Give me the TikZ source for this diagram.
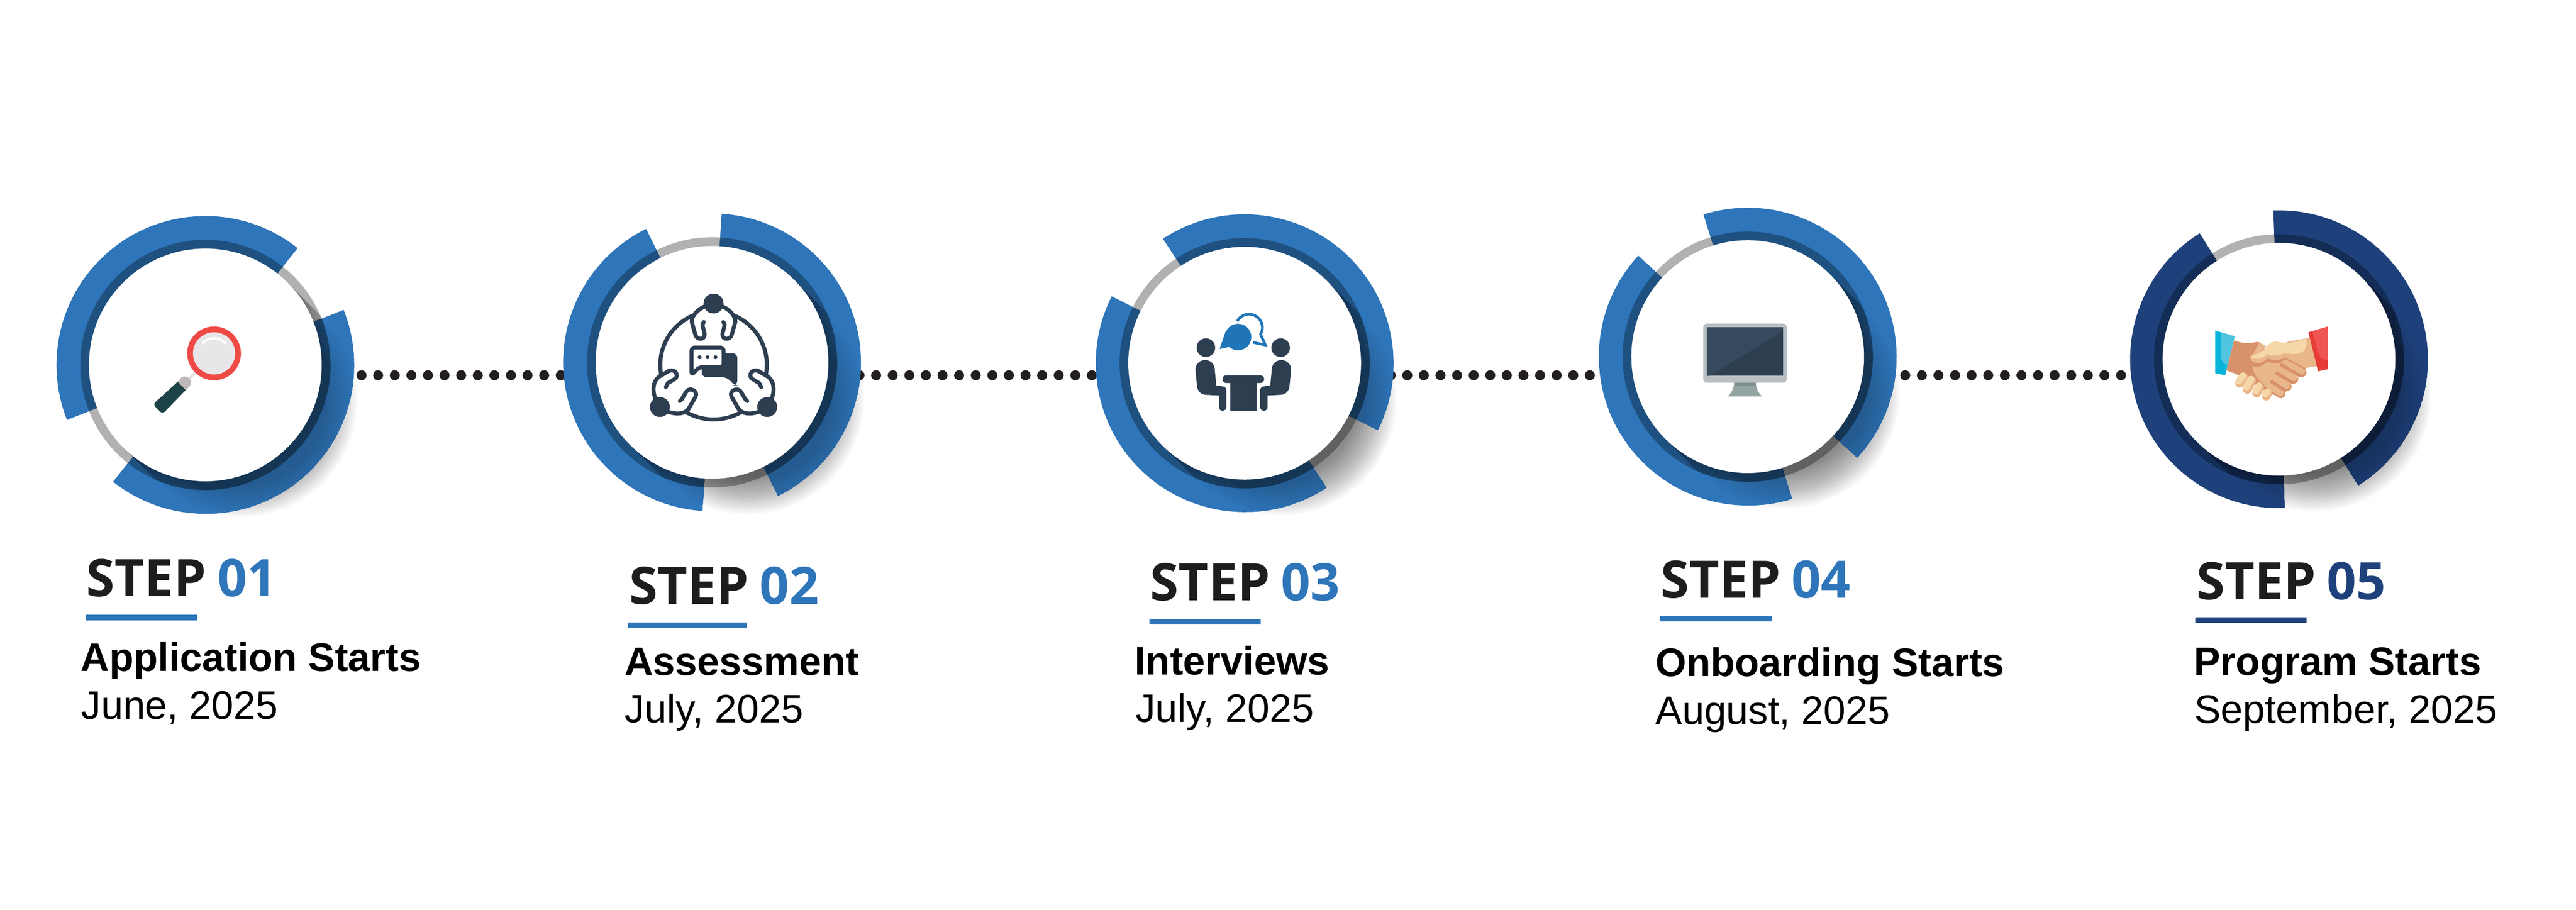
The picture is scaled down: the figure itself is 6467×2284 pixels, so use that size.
\documentclass[tikz,border=0pt]{standalone}
\usepackage{fontspec}
\setmainfont{Liberation Sans}
\newfontfamily\stepfont{Open Sans}
\usetikzlibrary{calc}
\definecolor{ringblue}{HTML}{2E75B9}
\definecolor{ringnavy}{HTML}{1E417C}
\definecolor{ink}{HTML}{2D3E50}
\definecolor{steptext}{HTML}{1D1D1B}
\definecolor{dotc}{HTML}{231F20}
\definecolor{talkblue}{HTML}{1F75B8}
\definecolor{skinL}{HTML}{F5D7A8}
\definecolor{skinM}{HTML}{E9B68A}
\definecolor{skinD}{HTML}{D8916A}
\definecolor{capgrey}{HTML}{BFB7B9}
\definecolor{gripgreen}{HTML}{1C4347}
\definecolor{lensred}{HTML}{EF4A45}
\definecolor{lensfill}{HTML}{E9E6EA}
\definecolor{standA}{HTML}{93A5A3}
\definecolor{standB}{HTML}{7E8F8C}
\definecolor{bezel}{HTML}{B8BEC3}
\definecolor{glare}{HTML}{37495D}
\definecolor{cuffA}{HTML}{06B4DB}
\definecolor{cuffB}{HTML}{4FC5E0}
\definecolor{cuffC}{HTML}{E63C36}
\definecolor{cuffD}{HTML}{EF5553}
\tikzset{
  dotdisc/.style={fill=dotc},
  hairline/.style={draw=black!13,line width=.3pt},
  whitedisc/.style={circle,fill=white,inner sep=0pt,minimum size=5.84cm},
  steplabel/.style={anchor=base west,inner sep=0pt,text=steptext,font=\stepfont\bfseries\fontsize{36.9}{42}\selectfont},
  numlabel/.style={anchor=base west,inner sep=0pt,font=\stepfont\bfseries\fontsize{36.9}{42}\selectfont},
  titlelabel/.style={anchor=base west,inner sep=0pt,text=black,font=\bfseries\fontsize{28.4}{32}\selectfont},
  datelabel/.style={anchor=base west,inner sep=0pt,text=black,font=\fontsize{28.4}{32}\selectfont},
  iconline/.style={draw=ink,line width=2.845pt,line cap=round,line join=round},
}
\newcommand\ringarc[2]{(#1:373.7) arc[start angle=#1,end angle=#2,radius=373.7] -- (#2:285) arc[start angle=#2,end angle=#1,radius=285] -- cycle}
\newcommand\capsule[1]{(45:#1) -- ++(90.5,-90.5) arc[start angle=45,end angle=-135,radius=#1] -- (225:#1) arc[start angle=225,end angle=45,radius=#1] -- cycle}
\newcommand\stepring[5]{%
  \begin{scope}[shift={(#2,#3)}]
    \pgfmathsetmacro\bS{#4}\pgfmathsetmacro\bE{#4-150}
    \pgfmathsetmacro\aS{#4+30}\pgfmathsetmacro\aE{#4+180}
    % soft shadow on the white ground
    \foreach \R in {292,289,...,196}{\fill[black,opacity=.014] \capsule{\R};}
    % two blue arcs
    \fill[#5] \ringarc{\bS}{\bE};
    \fill[#5] \ringarc{\aS}{\aE};
    % shadow falling on the arcs, as opaque mixed tints
    \begin{scope}
      \clip \ringarc{\bS}{\bE} \ringarc{\aS}{\aE};
      \foreach \R in {292,289,...,208}{
        \pgfmathsetmacro\p{100-(292-\R)*22/84}
        \fill[#5!\p!black] \capsule{\R};
      }
      \begin{scope}
        \clip (0,0) circle (314);
        \foreach \R in {292,289,...,238}{
          \pgfmathsetmacro\p{100-(292-\R)*34/54}
          \fill[#5!\p!black] \capsule{\R};
        }
      \end{scope}
    \end{scope}
    % thin grey ring (multiplies what is below)
    \fill[black,opacity=.306] (0,0) circle (314);
    % crisp wedges at the two tangent points
    \begin{scope}
      \clip \capsule{292};
      \clip (0,0) circle (314);
      \foreach \k in {3,6,...,36}{
        \fill[black,opacity=.04] (0,0) -- (45:330) arc[start angle=45,end angle=45-\k,radius=330] -- cycle;
        \fill[black,opacity=.04] (0,0) -- (225:330) arc[start angle=225,end angle=225+\k,radius=330] -- cycle;
      }
    \end{scope}
    \node[whitedisc] (disc#1) at (0,0) {};
  \end{scope}}
\begin{document}
\begin{tikzpicture}[x=.01cm,y=.01cm]
\useasboundingbox (0,0) rectangle (6467,2284);
\fill[white] (0,0) rectangle (6467,2284);
% connectors
\coordinate (e1) at (885,1342); \coordinate (e2) at (1420,1342);
\coordinate (e3) at (2155,1342); \coordinate (e4) at (2757,1342);
\coordinate (e5) at (3492,1342); \coordinate (e6) at (4020,1342);
\coordinate (e7) at (4755,1342); \coordinate (e8) at (5353,1342);
\draw[hairline] (e1) -- (e2);
\draw[hairline] (e3) -- (e4);
\draw[hairline] (e5) -- (e6);
\draw[hairline] (e7) -- (e8);
\foreach \k in {0,...,12,30,31,...,44,62,63,...,74,93,94,...,106}{
  \fill[dotdisc] ({907.7+41.67*\k},1342) circle (12.6);
}
% rings
\stepring{1}{515.5}{1368}{21.7}{ringblue}
\stepring{2}{1787.6}{1374.5}{86.3}{ringblue}
\stepring{3}{3124.7}{1372.3}{123.3}{ringblue}
\stepring{4}{4387.6}{1388.8}{107.3}{ringblue}
\stepring{5}{5721.3}{1382.2}{92.2}{ringnavy}

\begin{scope}[shift={(0,2284)},yscale=-1]
% ---------- icon 1: magnifier
\draw[black!10,line width=2pt] (490.3,935.3) -- (465,960);
\fill[capgrey] (446.2,958.3) -- (466.2,979.2) -- (474.3,971.5) .. controls (488,957) and (470,938) .. (455.9,947.4) -- cycle;
\fill[gripgreen] (446.2,958.3) -- (466.2,979.2) [rounded corners=2.3pt] -- (408,1039) -- (384,1015) [sharp corners] -- cycle;
\fill[lensred] (537.4,887) circle (67.5);
\fill[lensfill] (537.4,887) circle (53);
\draw[white,line width=1.7pt,line cap=round] (509.3,861.2) .. controls (525,845) and (550,845) .. (565,861.2);

% ---------- icon 2: three people and chat
\begin{scope}[shift={(1480,680)},scale=1/3]
  \draw[iconline] (770,340) arc[start angle=245.8,end angle=169.4,radius=402];
  \draw[iconline] (1098,340) arc[start angle=294.2,end angle=370.6,radius=402];
  \draw[iconline] (730,1065) arc[start angle=119.5,end angle=60.5,radius=415];
  \foreach \f in {0,1}{
    \begin{scope}[shift={(\f*1868,0)},xscale=1-2*\f]
      \draw[iconline] (880,262) .. controls (810,290) and (768,340) .. (770,385) -- (797,480) .. controls (805,520) and (870,525) .. (867,475) -- (850,405) -- (860,385);
      \draw[iconline] (495,960) .. controls (470,890) and (480,820) .. (535,790) -- (600,752) .. controls (645,735) and (680,790) .. (640,815) -- (590,845) -- (575,875);
      \draw[iconline] (590,1060) .. controls (640,1078) and (710,1085) .. (745,1040) -- (800,945) .. controls (820,900) and (745,870) .. (725,915) -- (695,965) -- (680,980);
    \end{scope}
  }
  \fill[ink] (934,246) circle (75);
  \fill[ink] (530,1025) circle (75);
  \fill[ink] (1338,1025) circle (75);
  \fill[ink,rounded corners=3.4pt] (845,620) -- (1113,620) -- (1113,862) -- (1090,862) -- (1035,800) -- (845,800) -- cycle;
  \draw[ink,fill=white,line width=2.845pt,rounded corners=2.4pt,line join=round] (768,785) -- (768,577) -- (1010,577) -- (1010,725) -- (825,725) -- cycle;
  \fill[ink] (829,650) circle (15);
  \fill[ink] (889,650) circle (15);
  \fill[ink] (949,650) circle (15);
\end{scope}

% ---------- icon 3: interview at a table
\begin{scope}[shift={(2900,740)},scale=1/3]
  \fill[ink] (382,398) circle (70);
  \fill[ink] (945,398) circle (70);
  \foreach \f in {0,1}{
    \begin{scope}[shift={(\f*1327,0)},xscale=1-2*\f]
      \fill[ink] (303,565) .. controls (303,522) and (335,492) .. (376,492) .. controls (415,492) and (445,520) .. (448,555) -- (460,682) -- (510,690) .. controls (528,693) and (536,705) .. (536,718) -- (536,845) .. controls (536,882) and (480,882) .. (480,845) -- (480,758) -- (380,753) .. controls (340,750) and (318,720) .. (315,685) -- cycle;
    \end{scope}
  }
  \fill[ink,rounded corners=2.7pt] (507,606) rectangle (821,664);
  \fill[ink] (565,650) rectangle (762,873);
  \fill[talkblue] (624,318) circle (100);
  \fill[talkblue] (533,270) -- (485,408) -- (558,393) -- (640,330) -- cycle;
  \draw[talkblue,line width=1.9pt] (617,200) arc[start angle=207.8,end angle=390,radius=101] -- (830,378) -- (736,358);
\end{scope}

% ---------- icon 4: monitor
\fill[standA] (4353.7,960) -- (4408.2,960) .. controls (4408,975) and (4414,986) .. (4423.7,995) -- (4337.6,995) .. controls (4347,986) and (4353,975) .. (4353.7,960) -- cycle;
\fill[standB] (4353.7,960) rectangle (4408.2,969.3);
\fill[bezel,rounded corners=2.3pt] (4276.2,812.4) rectangle (4485.2,960.5);
\fill[ink] (4284.8,821.7) rectangle (4476,943.5);
\fill[glare] (4284.8,821.7) -- (4476,821.7) -- (4476,830) -- (4292.9,943.5) -- (4284.8,943.5) -- cycle;

% ---------- icon 5: handshake
\begin{scope}[shift={(5480,780)},scale=1/3]
  % left arm
  \fill[skinD] (385,223) .. controls (430,238) and (480,255) .. (550,235) .. controls (560,233) and (570,235) .. (578,238) -- (640,330) -- (675,635) -- (420,485) -- (328,448) -- cycle;
  \fill[skinM] (575,237) -- (630,270) -- (570,325) -- (528,335) -- cycle;
  \fill[cuffA] (243,149) -- (390,193) -- (318,486) -- (243,470) -- cycle;
  \fill[cuffB] (288,162) -- (390,193) -- (335,415) .. controls (300,395) and (283,365) .. (283,320) -- cycle;
  % hand underside
  \foreach \a/\b/\c/\d in {765/360/897/465,715/465/835/515,670/530/785/570,640/560/737/625}{
    \draw[skinD,line width=6.45pt,line cap=round] (\a,\b) -- (\c,\d);
  }
  % arm, thumb and palm
  \fill[skinM] (955,205) -- (1008,418) -- (920,432) -- (765,345) -- (700,330) -- (640,300) -- (800,230) -- cycle;
  \fill[skinM] (522,415) .. controls (525,470) and (565,520) .. (620,560) -- (720,618) -- (770,590) -- (820,520) -- (870,470) -- (765,360) -- (640,380) -- cycle;
  \foreach \a/\b/\c/\d in {765/348/892/450,715/452/830/502,670/518/782/557,640/548/733/612}{
    \draw[skinM,line width=5.7pt,line cap=round] (\a,\b) -- (\c,\d);
  }
  % finger separators
  \foreach \a/\b/\c/\d in {742/408/880/488,705/470/825/540,668/535/770/600}{
    \draw[skinD,line width=2.3pt,line cap=round] (\a,\b) -- (\c,\d);
  }
  \draw[skinD,line width=1pt] (765,355) -- (925,440);
  % thumb
  \fill[skinD] (522,415) .. controls (560,435) and (600,415) .. (640,382) .. controls (680,405) and (740,400) .. (768,365) -- (755,330) -- (510,365) -- cycle;
  \fill[skinM] (507,345) .. controls (505,380) and (540,395) .. (575,395) .. controls (600,390) and (620,370) .. (640,358) .. controls (680,378) and (740,375) .. (768,350) -- (770,300) -- (540,310) -- cycle;
  \fill[skinL] (507,345) .. controls (560,325) and (610,305) .. (640,262) .. controls (665,225) and (710,230) .. (735,238) .. controls (790,250) and (850,235) .. (928,210) .. controls (945,265) and (915,325) .. (850,325) .. controls (810,330) and (780,318) .. (750,325) .. controls (700,345) and (660,335) .. (635,328) .. controls (600,365) and (540,375) .. (507,345) -- cycle;
  % left-hand fingers
  \foreach \a/\b/\c/\d in {458/500/428/545,518/525/485/592,578/575/555/620,640/620/628/643}{
    \draw[skinM,line width=6.3pt,line cap=round] (\a,\b) -- (\c,\d);
  }
  \foreach \a/\b/\c/\d in {452/490/422/530,512/515/478/575,572/565/548/604,636/610/620/627}{
    \draw[skinL,line width=4.8pt,line cap=round] (\a,\b) -- (\c,\d);
  }
  % right cuff
  \fill[cuffC] (945,162) -- (1091,120) -- (1091,440) -- (1018,456) -- cycle;
  \fill[cuffD] (976,153) -- (1091,120) -- (1091,370) .. controls (1050,368) and (1025,345) .. (1015,305) -- cycle;
\end{scope}

% ---------- labels
\node[steplabel] (s1) at (216,1497.7) {STEP};
\node[numlabel,text=ringblue] (n1) at (546,1497.7) {01};
\fill[ringblue] (215,1543.3) rectangle (495,1556.7);
\node[titlelabel] (t1) at (202,1685) {Application Starts};
\node[datelabel] (d1) at (203,1805) {June, 2025};

\node[steplabel] (s2) at (1579,1516.7) {STEP};
\node[numlabel,text=ringblue] (n2) at (1907,1516.7) {02};
\fill[ringblue] (1577,1562.3) rectangle (1875.6,1575.7);
\node[titlelabel] (t2) at (1567,1694.7) {Assessment};
\node[datelabel] (d2) at (1568,1814.3) {July, 2025};

\node[steplabel] (s3) at (2887,1508) {STEP};
\node[numlabel,text=ringblue] (n3) at (3215,1508) {03};
\fill[ringblue] (2885.5,1553.7) rectangle (3165,1567);
\node[titlelabel] (t3) at (2848,1694) {Interviews};
\node[datelabel] (d3) at (2850,1813.3) {July, 2025};

\node[steplabel] (s4) at (4169,1501) {STEP};
\node[numlabel,text=ringblue] (n4) at (4497,1501) {04};
\fill[ringblue] (4167.5,1546.7) rectangle (4447.7,1560);
\node[titlelabel] (t4) at (4155,1698) {Onboarding Starts};
\node[datelabel] (d4) at (4155.7,1818.3) {August, 2025};

\node[steplabel] (s5) at (5513,1504.7) {STEP};
\node[numlabel,text=ringnavy] (n5) at (5841,1504.7) {05};
\fill[ringnavy] (5511,1550) rectangle (5791,1563.3);
\node[titlelabel] (t5) at (5507,1695) {Program Starts};
\node[datelabel] (d5) at (5508,1815) {September, 2025};
\end{scope}
\end{tikzpicture}
\end{document}
